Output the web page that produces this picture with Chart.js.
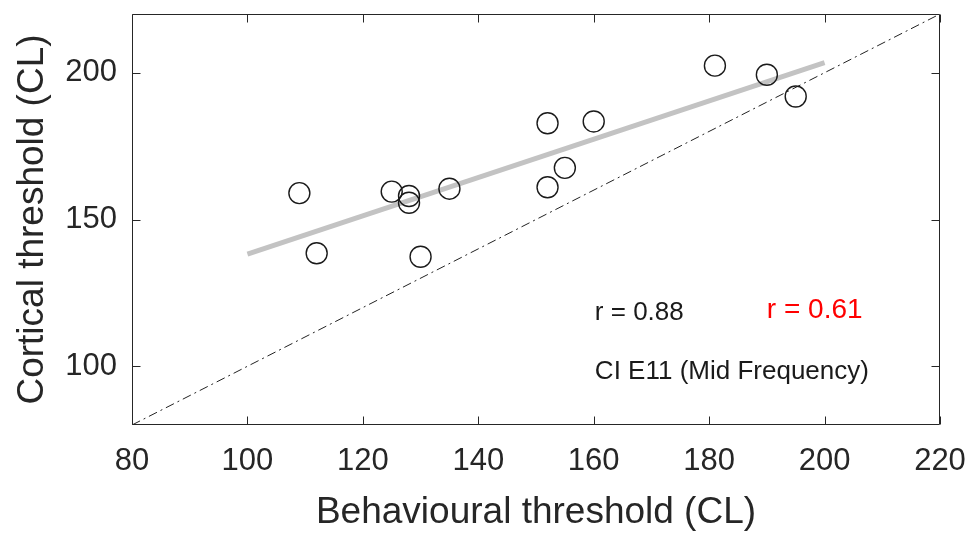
<!DOCTYPE html>
<html>
<head>
<meta charset="utf-8">
<script src="https://cdn.jsdelivr.net/npm/chart.js@4.4.0/dist/chart.umd.min.js"></script>
<style>
  html, body { margin: 0; padding: 0; background: #fff; }
  #wrap { width: 973px; height: 535px; }
</style>
</head>
<body>
<div id="wrap"><canvas id="scatter-chart"></canvas></div>
<script>
// ------------------------------------------------------
// data
// ------------------------------------------------------
const behavioural = [109, 112, 125, 128, 128, 130, 135, 152, 152, 155, 160, 181, 190, 195];
const cortical    = [159, 138.5, 159.5, 158, 155.7, 137.3, 160.5, 182.8, 161, 167.6, 183.4, 202.4, 199.3, 191.9];
const fitX = [100, 200];
const fitY = [138.2, 203.4];
const unityX = [80, 220];
const unityY = [80, 220];
const xTicks = [80, 100, 120, 140, 160, 180, 200, 220];
const yTicks = [100, 150, 200];

const FONT = '"Liberation Sans", Arial, Helvetica, sans-serif';
const INK = '#262626';

const toPoints = (xs, ys) => xs.map((x, i) => ({ x: x, y: ys[i] }));

// box with inward ticks on all four sides + text notes
const matlabBox = {
  id: 'matlabBox',
  afterDraw(chart) {
    const { ctx, chartArea: a, scales: { x, y } } = chart;
    const L = Math.round(a.left) + 0.5, R = Math.round(a.right) - 0.5;
    const T = Math.round(a.top) + 0.5, B = Math.round(a.bottom) - 0.5;
    const len = 8;
    ctx.save();
    ctx.strokeStyle = INK;
    ctx.lineWidth = 1;
    ctx.beginPath();
    ctx.rect(L, T, R - L, B - T);
    xTicks.forEach(v => {
      const px = Math.round(x.getPixelForValue(v)) + 0.5;
      ctx.moveTo(px, B); ctx.lineTo(px, B - len);
      ctx.moveTo(px, T); ctx.lineTo(px, T + len);
    });
    yTicks.forEach(v => {
      const py = Math.round(y.getPixelForValue(v)) + 0.5;
      ctx.moveTo(L, py); ctx.lineTo(L + len, py);
      ctx.moveTo(R, py); ctx.lineTo(R - len, py);
    });
    ctx.stroke();

    ctx.textBaseline = 'middle';
    ctx.textAlign = 'left';
    ctx.fillStyle = '#1a1a1a';
    ctx.font = '26px ' + FONT;
    ctx.fillText('r = 0.88', x.getPixelForValue(160.2), y.getPixelForValue(118.2));
    ctx.fillText('CI E11 (Mid Frequency)', x.getPixelForValue(160.2), y.getPixelForValue(98.2));
    ctx.fillStyle = '#ff0000';
    ctx.font = '28px ' + FONT;
    ctx.fillText('r = 0.61', x.getPixelForValue(190), y.getPixelForValue(119.2));
    ctx.restore();
  }
};

const noPad = s => { s.paddingTop = 0; s.paddingBottom = 0; s.paddingLeft = 0; s.paddingRight = 0; };

const box = document.getElementById('scatter-chart');
const sctx = box.getContext('2d');

new Chart(sctx, {
  type: 'scatter',
  data: {
    datasets: [{
      label            : 'subjects',
      data             : toPoints(behavioural, cortical),
      pointRadius      : 10.5,
      pointHoverRadius : 10.5,
      pointBorderWidth : 1.4,
      borderColor      : '#1a1a1a',
      backgroundColor  : 'rgba(0,0,0,0)',
      order            : 0,
    }, {
      type        : 'line',
      label       : 'fit',
      data        : toPoints(fitX, fitY),
      borderColor : '#c3c3c3',
      borderWidth : 5,
      pointRadius : 0,
      fill        : false,
      order       : 1,
    }, {
      type        : 'line',
      label       : 'unity',
      data        : toPoints(unityX, unityY),
      borderColor : '#222222',
      borderWidth : 1,
      borderDash  : [9, 4, 2, 4],
      pointRadius : 0,
      fill        : false,
      order       : 2,
    }],
  },
  options: {
    responsive: true,
    maintainAspectRatio: false,
    animation: false,
    layout: { padding: { left: 0, top: 14, right: 33, bottom: 0 } },
    plugins: {
      legend: { display: false },
      tooltip: { enabled: false },
    },
    scales: {
      x: {
        type: 'linear',
        min: 80,
        max: 220,
        afterBuildTicks: s => { s.ticks = xTicks.map(v => ({ value: v })); },
        afterFit: s => { s.height = 110; noPad(s); },
        grid: { display: false, drawTicks: false },
        border: { display: false },
        ticks: { color: INK, padding: 18, font: { family: FONT, size: 31 } },
        title: {
          display: true,
          text: 'Behavioural threshold (CL)',
          color: INK,
          padding: { top: 0, bottom: 0 },
          font: { family: FONT, size: 37 },
        },
      },
      y: {
        type: 'linear',
        min: 80,
        max: 220,
        afterBuildTicks: s => { s.ticks = yTicks.map(v => ({ value: v })); },
        afterFit: s => { s.width = 132; noPad(s); },
        grid: { display: false, drawTicks: false },
        border: { display: false },
        ticks: { color: INK, padding: 15, font: { family: FONT, size: 31 } },
        title: {
          display: true,
          text: 'Cortical threshold (CL)',
          color: INK,
          padding: { top: 11, bottom: 0 },
          font: { family: FONT, size: 37 },
        },
      },
    },
  },
  plugins: [matlabBox],
});
</script>
</body>
</html>
